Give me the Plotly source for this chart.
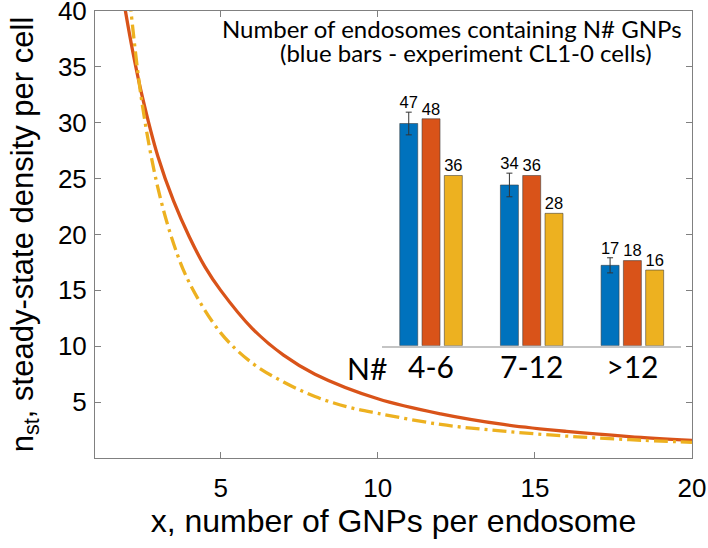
import plotly.graph_objects as go

# ---- main curves ----
x_orange = [1.9, 2.2, 2.5, 3.0, 3.5, 4.0, 4.5, 5.0, 6.0, 7.0, 8.0, 10.0, 12.0, 14.0, 16.0, 18.0, 20.0]
y_orange = [41.1, 36.4, 32.4, 27.0, 23.0, 19.8, 17.1, 15.0, 11.6, 9.2, 7.5, 5.3, 3.95, 3.0, 2.38, 1.92, 1.58]

x_yellow = [2.1, 2.5, 3.0, 3.5, 4.0, 5.0, 6.0, 7.0, 8.0, 9.0, 10.0, 12.0, 14.0, 16.0, 18.0, 20.0]
y_yellow = [41.2, 31.7, 24.2, 19.2, 15.7, 11.2, 8.5, 6.8, 5.5, 4.6, 4.0, 3.0, 2.4, 1.96, 1.64, 1.4]

x_ticks = [5, 10, 15, 20]
y_ticks = [5, 10, 15, 20, 25, 30, 35, 40]

# ---- inset bar chart ----
groups = ["4-6", "7-12", ">12"]
blue_vals = [47, 34, 17]
blue_err = [2.4, 2.5, 1.6]
orange_vals = [48, 36, 18]
yellow_vals = [36, 28, 16]

BLUE = "#0072BD"
ORANGE = "#D95319"
YELLOW = "#EDB120"
AX = "#808080"
FONT = "Arial, Liberation Sans, sans-serif"
CAL = "Lato, Carlito, Calibri, sans-serif"

W, H = 708, 548
L, R, T, B = 95, 16, 11, 90
PW, PH = W - L - R, H - T - B


def px_x(p):
    return (p - L) / PW


def px_y(p):
    return (H - B - p) / PH


fig = go.Figure()

fig.add_trace(go.Scatter(x=x_orange, y=y_orange, mode="lines", line=dict(color=ORANGE, width=3.3, shape="spline"),
                         showlegend=False, hoverinfo="skip"))
fig.add_trace(go.Scatter(x=x_yellow, y=y_yellow, mode="lines",
                         line=dict(color=YELLOW, width=3.3, shape="spline", dash="14px,5px,3px,5px"),
                         showlegend=False, hoverinfo="skip"))

pitch = 22.3 / 100.7
bw = 18.0 / 100.7
gidx = list(range(len(groups)))
series = [(blue_vals, BLUE, blue_err), (orange_vals, ORANGE, None), (yellow_vals, YELLOW, None)]
for k, (vals, col, err) in enumerate(series):
    off = (k - 1) * pitch
    bar = dict(x=gidx, y=vals, width=[bw] * 3, offset=[off - bw / 2] * 3,
               marker=dict(color=col, line=dict(color="rgba(60,60,60,0.7)", width=0.8)),
               xaxis="x2", yaxis="y2", showlegend=False, hoverinfo="skip")
    errs = err if err is not None else [0] * len(vals)
    if err is not None:
        bar["error_y"] = dict(type="data", array=err, color="#333333", thickness=1, width=3)
    fig.add_trace(go.Bar(**bar))
    ty = [v + e for v, e in zip(vals, errs)]
    fig.add_trace(go.Scatter(x=[g + off for g in gidx], y=ty, mode="text", text=[str(v) for v in vals],
                             textposition="top center", textfont=dict(family=FONT, size=16.5, color="black"),
                             xaxis="x2", yaxis="y2", showlegend=False, hoverinfo="skip", cliponaxis=False))

fig.update_layout(
    width=W, height=H, autosize=False,
    margin=dict(l=L, r=R, t=T, b=B, autoexpand=False),
    paper_bgcolor="white", plot_bgcolor="white",
    barmode="overlay",
    xaxis=dict(range=[1, 20], tickvals=x_ticks, ticks="inside", ticklen=6, tickcolor=AX,
               showline=True, linecolor=AX, linewidth=1, mirror="ticks", showgrid=False, zeroline=False,
               tickfont=dict(family=FONT, size=26, color="black"), ticklabelstandoff=7,
               ticklabeloverflow="allow", automargin=False,
               title=dict(text="x, number of GNPs per endosome", font=dict(family=FONT, size=32, color="black"),
                          standoff=7)),
    yaxis=dict(range=[0, 40], tickvals=y_ticks, ticks="inside", ticklen=6, tickcolor=AX,
               showline=True, linecolor=AX, linewidth=1, mirror="ticks", showgrid=False, zeroline=False,
               tickfont=dict(family=FONT, size=26, color="black"), ticklabelstandoff=2,
               ticklabeloverflow="allow", automargin=False,
               title=dict(text="n<sub>st</sub>, steady-state density per cell",
                          font=dict(family=FONT, size=31, color="black"), standoff=15)),
    xaxis2=dict(domain=[px_x(381.7), px_x(680.7)], anchor="y2", range=[-0.49, 2.48], tickvals=gidx,
                ticktext=groups, ticks="", showline=True, linecolor="#c4c4c4", linewidth=2, showgrid=False,
                zeroline=False, tickfont=dict(family=CAL, size=30, color="black"), ticklabelstandoff=-6,
                automargin=False),
    yaxis2=dict(domain=[px_y(345.7), 1.0], anchor="x2", range=[0, 70.8], visible=False, showgrid=False,
                automargin=False),
    annotations=[
        dict(text="N#", xref="paper", x=px_x(367), yref="paper", y=px_y(368), xanchor="center",
             yanchor="middle", showarrow=False, font=dict(family=CAL, size=30, color="black")),
        dict(text="Number of endosomes containing N# GNPs", xref="paper", yref="paper",
             x=px_x(452), y=px_y(28), xanchor="center", yanchor="middle", showarrow=False,
             font=dict(family=CAL, size=24, color="black")),
        dict(text="(blue bars - experiment CL1-0 cells)", xref="paper", yref="paper",
             x=px_x(466), y=px_y(53), xanchor="center", yanchor="middle", showarrow=False,
             font=dict(family=CAL, size=24, color="black")),
    ],
)

fig.write_html("out.html", config={"displayModeBar": False},
               post_script="document.body.style.margin='0px';")
